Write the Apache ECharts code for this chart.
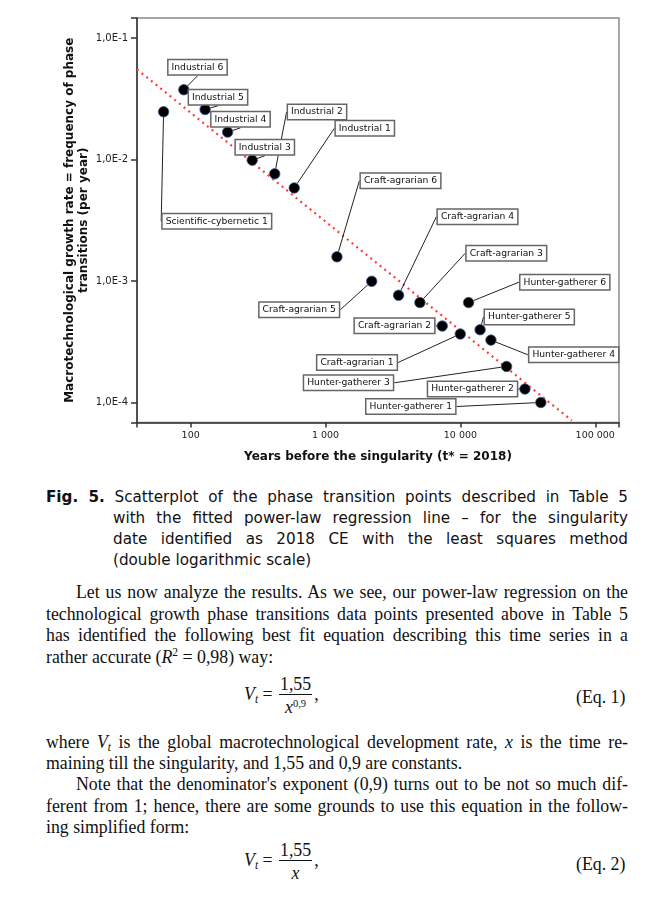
<!DOCTYPE html>
<html>
<head>
<meta charset="utf-8">
<script src="https://cdn.jsdelivr.net/npm/echarts@6/dist/echarts.min.js"></script>
<style>
html,body{margin:0;padding:0;background:#fff;}
body{width:653px;height:909px;position:relative;overflow:hidden;}
#chart{position:absolute;left:0;top:0;width:653px;height:480px;}
.ln{position:absolute;white-space:nowrap;}
.cap{font-family:"DejaVu Sans",Verdana,sans-serif;font-size:15.2px;color:#111;line-height:21px;}
.txt{font-family:"Liberation Serif","Times New Roman",serif;font-size:17.8px;color:#111;line-height:21px;}
.j{text-align:justify;text-align-last:justify;white-space:normal;}
.eq{position:absolute;font-family:"Liberation Serif","Times New Roman",serif;font-size:17.8px;color:#111;}
.frac{display:inline-block;vertical-align:middle;text-align:center;margin:0 2px;}
.frac .num{display:block;border-bottom:1px solid #111;padding:0 1px 1px 1px;line-height:18px;}
.frac .den{display:block;line-height:20px;padding-top:2px;}
.frac .den sup{font-size:10.5px;vertical-align:6px;line-height:0;}
sup{font-size:11.5px;vertical-align:7px;line-height:0;}
sub{font-size:11.5px;vertical-align:-3px;line-height:0;}
</style>
</head>
<body>
<div id="chart"></div>

<div class="ln cap j" style="left:46px;top:487px;width:582px;"><b>Fig. 5.</b> Scatterplot of the phase transition points described in Table 5</div>
<div class="ln cap j" style="left:113px;top:508px;width:515px;">with the fitted power-law regression line – for the singularity</div>
<div class="ln cap j" style="left:113px;top:529px;width:515px;">date identified as 2018 CE with the least squares method</div>
<div class="ln cap" style="left:113px;top:550px;">(double logarithmic scale)</div>

<div class="ln txt j" style="left:76px;top:582px;width:552px;">Let us now analyze the results. As we see, our power-law regression on the</div>
<div class="ln txt j" style="left:46px;top:604px;width:582px;">technological growth phase transitions data points presented above in Table 5</div>
<div class="ln txt j" style="left:46px;top:625px;width:582px;">has identified the following best fit equation describing this time series in a</div>
<div class="ln txt" style="left:46px;top:647px;">rather accurate (<i>R</i><sup>2</sup> = 0,98) way:</div>

<div class="eq" style="left:244px;top:675px;"><i>V</i><sub><i>t</i></sub> = <span class="frac"><span class="num">1,55</span><span class="den"><i>x</i><sup>0,9</sup></span></span>,</div>
<div class="eq" style="left:576px;top:687px;">(Eq. 1)</div>

<div class="ln txt j" style="left:46px;top:732px;width:582px;">where <i>V<sub>t</sub></i> is the global macrotechnological development rate, <i>x</i> is the time re-</div>
<div class="ln txt" style="left:46px;top:753px;">maining till the singularity, and 1,55 and 0,9 are constants.</div>
<div class="ln txt j" style="left:76px;top:774px;width:552px;">Note that the denominator's exponent (0,9) turns out to be not so much dif-</div>
<div class="ln txt j" style="left:46px;top:796px;width:582px;">ferent from 1; hence, there are some grounds to use this equation in the follow-</div>
<div class="ln txt" style="left:46px;top:817px;">ing simplified form:</div>

<div class="eq" style="left:244px;top:841px;"><i>V</i><sub><i>t</i></sub> = <span class="frac"><span class="num">1,55</span><span class="den"><i>x</i></span></span>,</div>
<div class="eq" style="left:576px;top:854px;">(Eq. 2)</div>

<script>
// ---- data ----
const phaseNames = ['Scientific-cybernetic 1','Industrial 6','Industrial 5','Industrial 4','Industrial 3','Industrial 2','Industrial 1',
  'Craft-agrarian 6','Craft-agrarian 5','Craft-agrarian 4','Craft-agrarian 3','Craft-agrarian 2','Craft-agrarian 1',
  'Hunter-gatherer 6','Hunter-gatherer 5','Hunter-gatherer 4','Hunter-gatherer 3','Hunter-gatherer 2','Hunter-gatherer 1'];
const yearsBefore = [63, 89, 128, 188, 286, 420, 586, 1215, 2200, 3480, 5010, 7340, 9980, 11500, 14000, 16850, 22000, 30100, 39500];
const transitionRates = [0.0247, 0.0375, 0.0258, 0.0168, 0.00987, 0.00762, 0.00583, 0.00158, 0.000994, 0.000762, 0.000664, 0.000426, 0.000366, 0.000664, 0.000397, 0.000326, 0.000198, 0.000129, 0.0001];
const fitYears = [40, 67000];
const fitRates = [0.0552, 0.000071];
const xTicks = [100, 1000, 10000, 100000];
const yTicks = [0.0001, 0.001, 0.01, 0.1];

// ---- layout: label box centres (pixels) ----
const labelBoxPos = [
  [216.8,221.3],[197.5,67.3],[218,97.3],[240.5,119.3],[264.8,147.3],[317,112],[364.8,128.3],
  [400.5,180.8],[299.2,309.7],[477.5,216.7],[506.3,253.3],[394.5,325.8],[357,362.5],
  [564.8,282.2],[529.3,317],[573.7,354.8],[348.5,382.8],[472.5,389],[410.8,406.5]
];

function isTick(v, arr){ return arr.some(t => Math.abs(Math.log10(v) - Math.log10(t)) < 1e-6); }

const chart = echarts.init(document.getElementById('chart'), null, {renderer:'canvas'});
const font = '"DejaVu Sans", Verdana, sans-serif';
chart.setOption({
  animation:false,
  grid:{left:137, top:18, right:34, bottom:57.5, show:true, borderColor:'#8a8a8a', borderWidth:1.5, backgroundColor:'transparent'},
  xAxis:{
    type:'log', logBase:10, min:40, max:150000,
    name:'Years before the singularity (t* = 2018)', nameLocation:'middle', nameGap:28,
    nameTextStyle:{fontFamily:font, fontWeight:'bold', fontSize:12, color:'#111'},
    axisLine:{show:true, lineStyle:{color:'#333', width:1.5}},
    axisTick:{show:true, length:5, lineStyle:{color:'#333', width:1.5}},
    axisLabel:{fontFamily:font, fontSize:9.5, color:'#222', margin:8,
      formatter:v => isTick(v, xTicks) ? String(Math.round(v)).replace(/\B(?=(\d{3})+(?!\d))/g,' ') : ''},
    splitLine:{show:false}, minorTick:{show:false}
  },
  yAxis:{
    type:'log', logBase:10, min:0.0000684, max:0.146,
    name:'Macrotechnological growth rate = frequency of phase\ntransitions (per year)', nameLocation:'middle', nameGap:46, nameRotate:90,
    nameMoveOverlap:false,
    nameTextStyle:{fontFamily:font, fontWeight:'bold', fontSize:12, color:'#111', lineHeight:14},
    axisLine:{show:true, lineStyle:{color:'#333', width:1.5}},
    axisTick:{show:true, length:6, lineStyle:{color:'#333', width:1.5}},
    axisLabel:{fontFamily:font, fontSize:10, color:'#222', margin:9,
      formatter:v => isTick(v, yTicks) ? '1,0E-' + Math.round(-Math.log10(v)) : ''},
    splitLine:{show:false}
  },
  series:[
    {
      type:'line', data:fitYears.map((x,i)=>[x, fitRates[i]]), symbol:'none', z:1,
      lineStyle:{color:'#ff3b3b', width:2.2, type:[2,4]}
    },
    {
      type:'scatter', z:3,
      data:yearsBefore.map((x,i)=>({value:[x, transitionRates[i]], name:phaseNames[i]})),
      symbolSize:10.5,
      itemStyle:{color:'#000', borderColor:'#3c5a9a', borderWidth:0.8, opacity:1},
      label:{show:true, formatter:p=>p.name, fontFamily:font, fontSize:9.2, color:'#111',
        backgroundColor:'#fff', borderColor:'#666', borderWidth:1.5, padding:[2,3,1,3], lineHeight:11},
      labelLine:{show:true, lineStyle:{color:'#222', width:1}},
      labelLayout:function(p){
        const pos = labelBoxPos[p.dataIndex];
        return {x:pos[0], y:pos[1], align:'center', verticalAlign:'middle'};
      }
    }
  ]
});
</script>
</body>
</html>
